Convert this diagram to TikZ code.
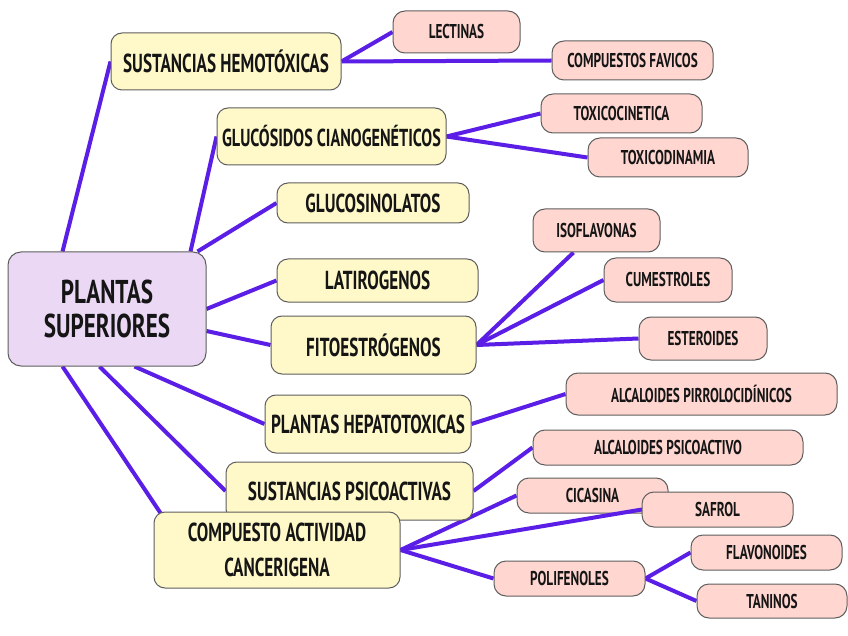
\documentclass[tikz,border=0pt]{standalone}
\usepackage{fontspec}
\setmainfont[FakeStretch=0.66]{PT Sans}
\newfontfamily\rootfont[FakeStretch=0.70]{PT Sans}
\usetikzlibrary{calc,backgrounds}
\definecolor{edgec}{HTML}{5A1EE6}
\definecolor{yelf}{HTML}{FFF8C8}
\definecolor{pinkf}{HTML}{FFD6D0}
\definecolor{lavf}{HTML}{EAD8F5}
\definecolor{bordc}{HTML}{5E5E5E}
\definecolor{txtc}{HTML}{151515}
\begin{document}
\begin{tikzpicture}[x=1pt,y=-1pt,
  box/.style={draw=bordc, line width=1pt, rounded corners=11pt, inner sep=0pt, align=center, text=txtc},
  rootbox/.style={box, fill=lavf, rounded corners=13pt, font=\rootfont\bfseries\fontsize{33}{34}\selectfont},
  ybox/.style={box, fill=yelf, font=\bfseries\fontsize{26}{35}\selectfont},
  pbox/.style={box, fill=pinkf, rounded corners=12pt, font=\bfseries\fontsize{20}{21}\selectfont},
  link/.style={draw=edgec, line width=4pt}]
\useasboundingbox (0,0) rectangle (848,636);

\node[rootbox, minimum width=198pt, minimum height=114pt] (pl) at (107,309) {PLANTAS\\SUPERIORES};

\node[ybox, minimum width=230pt, minimum height=57pt] (hem) at (226,61.5) {SUSTANCIAS HEMOTÓXICAS};
\node[ybox, minimum width=229pt, minimum height=57pt, font=\bfseries\fontsize{24.5}{35}\selectfont] (glu) at (331.5,136.5) {GLUCÓSIDOS CIANOGENÉTICOS};
\node[ybox, minimum width=192pt, minimum height=40pt] (gsn) at (373,203) {GLUCOSINOLATOS};
\node[ybox, minimum width=201pt, minimum height=43pt] (lat) at (377.5,280.5) {LATIROGENOS};
\node[ybox, minimum width=205pt, minimum height=58pt] (fit) at (373.5,345) {FITOESTRÓGENOS};
\node[ybox, minimum width=206pt, minimum height=58pt] (hep) at (368,424) {PLANTAS HEPATOTOXICAS};
\node[ybox, minimum width=247pt, minimum height=58pt] (psi) at (349.5,491) {SUSTANCIAS PSICOACTIVAS};
\node[ybox, minimum width=246pt, minimum height=76pt] (can) at (277,550) {COMPUESTO ACTIVIDAD\\CANCERIGENA};

\node[pbox, minimum width=127pt, minimum height=42pt] (lec) at (456.5,32) {LECTINAS};
\node[pbox, minimum width=161pt, minimum height=39pt] (fav) at (632.5,60.5) {COMPUESTOS FAVICOS};
\node[pbox, minimum width=161pt, minimum height=39pt] (tc) at (621.5,113.5) {TOXICOCINETICA};
\node[pbox, minimum width=160pt, minimum height=39pt] (td) at (668,157.5) {TOXICODINAMIA};
\node[pbox, minimum width=127pt, minimum height=43pt] (iso) at (596.5,230.5) {ISOFLAVONAS};
\node[pbox, minimum width=128pt, minimum height=44pt] (cum) at (668,280) {CUMESTROLES};
\node[pbox, minimum width=128pt, minimum height=43pt] (est) at (703,338.5) {ESTEROIDES};
\node[pbox, minimum width=271pt, minimum height=42pt] (pir) at (701.5,394) {ALCALOIDES PIRROLOCIDÍNICOS};
\node[pbox, minimum width=270pt, minimum height=35pt] (apsi) at (668,447.5) {ALCALOIDES PSICOACTIVO};
\node[pbox, minimum width=151pt, minimum height=35pt] (cic) at (592.5,495.5) {CICASINA};
\draw[link] (can.east) -- (642,509.5) coordinate (safw);
\node[pbox, minimum width=151pt, minimum height=35pt] (saf) at (717.5,509.5) {SAFROL};
\node[pbox, minimum width=151pt, minimum height=35pt] (pol) at (569.5,578.5) {POLIFENOLES};
\node[pbox, minimum width=151pt, minimum height=35pt] (flav) at (766.5,552.5) {FLAVONOIDES};
\node[pbox, minimum width=150pt, minimum height=34pt] (tan) at (772,601) {TANINOS};

\begin{scope}[on background layer]
\fill[white] (0,0) rectangle (848,636);
\draw[link] ([xshift=55pt]pl.north west) -- (hem.west);
\draw[link] ([xshift=-16pt]pl.north east) -- (glu.west);
\draw[link] ([xshift=-9pt]pl.north east) -- (gsn.west);
\draw[link] (pl.east) -- (lat.west);
\draw[link] ([yshift=-22pt]pl.east) -- (fit.west);
\draw[link] ([xshift=127pt]pl.south west) -- (hep.west);
\draw[link] ([xshift=92pt]pl.south west) -- (psi.west);
\draw[link] ([xshift=55pt]pl.south west) -- ([xshift=8pt,yshift=-3pt]can.north west);
\draw[link] (hem.east) -- (lec.west);
\draw[link] (hem.east) -- (fav.west);
\draw[link] (glu.east) -- (tc.west);
\draw[link] (glu.east) -- (td.west);
\draw[link] (fit.east) -- ([xshift=-23pt]iso.south);
\draw[link] (fit.east) -- (cum.west);
\draw[link] (fit.east) -- (est.west);
\draw[link] (hep.east) -- (pir.west);
\draw[link] (psi.east) -- (apsi.west);
\draw[link] (can.east) -- (cic.west);
\draw[link] (can.east) -- (pol.west);
\draw[link] (pol.east) -- (flav.west);
\draw[link] (pol.east) -- (tan.west);
\end{scope}
\end{tikzpicture}
\end{document}
